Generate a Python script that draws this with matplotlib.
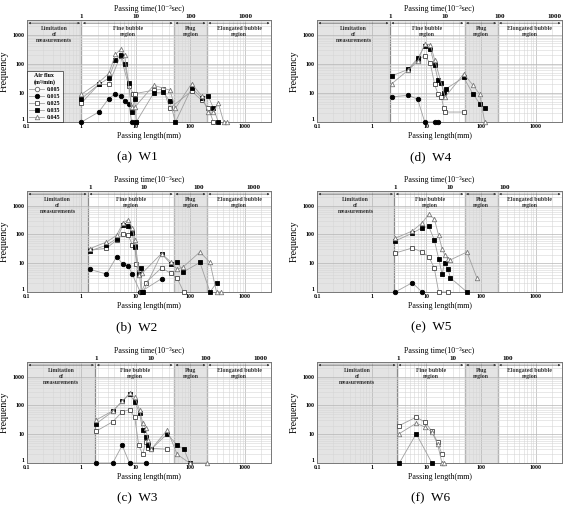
import numpy as np
import matplotlib
matplotlib.use('Agg')
import matplotlib.pyplot as plt
from matplotlib.ticker import LogLocator, FixedLocator, NullLocator, NullFormatter

plt.rcParams['font.family'] = ['Liberation Serif', 'DejaVu Serif']
plt.rcParams['font.weight'] = 'bold'

flux_labels = ['0.005', '0.015', '0.025', '0.035', '0.045']
panel_names = ['(a)  W1', '(b)  W2', '(c)  W3', '(d)  W4', '(e)  W5', '(f)  W6']

# passing length (mm) / frequency
# W1
w1_x05 = [9.0]
w1_y05 = [9.5]
w1_x15 = [1, 2.07, 3.16, 4.2, 5.2, 6.2, 7.4, 8.3, 10.1]
w1_y15 = [1, 2.2, 6.4, 9.5, 7.7, 5.2, 4.1, 1, 1]
w1_x25 = [1, 2.07, 3.16, 5.2, 7.4, 8.9, 9.7, 21.2, 31.6, 41.7, 105, 160, 212, 263]
w1_y25 = [4.5, 19.5, 19.5, 190, 17, 9.5, 9.5, 12.4, 13.4, 3.0, 11.5, 5.6, 3.1, 1]
w1_x35 = [1, 2.07, 3.16, 4.2, 5.2, 6.2, 7.4, 8.3, 9.5, 10.1, 21.2, 31.6, 41.7, 53, 105, 160, 212, 263, 324]
w1_y35 = [6.4, 19.5, 32, 134, 200, 98, 22, 2.2, 6.0, 1, 10, 10.8, 5.2, 1, 14.9, 6.8, 7.7, 3.0, 1]
w1_x45 = [1, 2.07, 3.16, 4.2, 5.2, 6.2, 8.3, 9.6, 21.2, 41.7, 53, 105, 160, 212, 263, 324, 407, 475]
w1_y45 = [9.0, 22.8, 46.6, 210, 314, 200, 3.3, 3.3, 18.3, 12.4, 3.0, 21, 7.9, 2.2, 2.2, 4.4, 1, 1]

# W2
w2_x05 = []
w2_y05 = []
w2_x15 = [1.42, 2.87, 4.39, 5.8, 7.2, 8.5, 12.0, 29.4]
w2_y15 = [6.1, 4.2, 16.5, 9.2, 8.1, 4.2, 1, 2.9]
w2_x25 = [1.42, 2.87, 4.39, 5.8, 7.2, 8.5, 9.5, 10.2, 11.5, 12.5, 15, 29.4, 44, 57, 75]
w2_y25 = [28, 33, 63, 105, 94, 44, 41, 9.2, 4.8, 1, 2.1, 6.9, 4.4, 3.0, 1]
w2_x35 = [1.42, 2.87, 4.39, 5.8, 7.2, 8.5, 9.5, 11.2, 12.2, 12.8, 13.5, 29.4, 44, 57, 74, 149, 228, 302]
w2_y35 = [26.6, 42, 71, 204, 189, 111, 36, 4.2, 7.0, 1, 1, 21.6, 9.2, 11.1, 5.0, 10.6, 1, 2.1]
w2_x45 = [1.42, 2.87, 4.39, 5.8, 7.2, 8.5, 9.5, 11.5, 13, 29.4, 44, 57, 74, 149, 228, 300, 368]
w2_y45 = [32, 54, 92, 250, 320, 170, 66, 4.0, 4.5, 21.6, 10.8, 6.1, 7.5, 24.5, 10.6, 1, 1]

# W3
w3_x05 = []
w3_y05 = []
w3_x15 = [1.85, 3.75, 5.57, 7.6, 15]
w3_y15 = [1, 1, 4.1, 1, 1]
w3_x25 = [1.85, 3.75, 5.57, 7.6, 9.5, 11.2, 13.3, 15, 16.7, 37.4]
w3_y25 = [12.7, 27, 60, 71, 38, 4.1, 2.0, 5.3, 3.3, 3.0]
w3_x35 = [1.85, 3.75, 5.57, 7.6, 9.5, 11.6, 13.3, 15, 16.7, 19, 37.4, 57, 76, 96]
w3_y35 = [22.8, 62, 137, 246, 134, 54.5, 14, 8.3, 4.1, 3.0, 10.3, 4.1, 3.0, 1]
w3_x45 = [1.85, 3.75, 5.57, 7.6, 9.5, 11.6, 13.3, 15, 16.7, 19, 37.4, 57, 96, 204]
w3_y45 = [31, 65, 140, 260, 190, 70, 24, 16, 6.5, 3.0, 14, 2.0, 1, 1]

# W4
w4_x05 = []
w4_y05 = []
w4_x15 = [2.35, 4.6, 6.9, 9.3, 14.5, 16.3]
w4_y15 = [7.3, 8.3, 6.1, 1, 1, 1]
w4_x25 = [4.6, 6.9, 9.3, 11.8, 14.1, 16.3, 18.7, 20.6, 22, 48]
w4_y25 = [60, 140, 188, 103, 19.5, 9.0, 7.3, 3.1, 2.2, 2.2]
w4_x35 = [2.35, 4.6, 6.9, 9.3, 11.8, 14.1, 16.3, 18.7, 20.6, 23, 48, 70, 94, 116]
w4_y35 = [38.6, 64, 153, 417, 312, 90, 27, 22, 10.3, 14, 34, 9.5, 4.3, 3.1]
w4_x45 = [2.35, 4.6, 6.9, 9.3, 11.8, 14.1, 22, 48, 70, 94, 116]
w4_y45 = [21, 60, 120, 480, 450, 140, 7.3, 45, 19, 9.0, 1]

# W5
w5_x05 = []
w5_y05 = []
w5_x15 = [2.7, 5.5, 8.3]
w5_y15 = [1, 2.1, 1]
w5_x25 = [2.7, 5.5, 8.3, 11, 13.9, 16.7, 24.8]
w5_y25 = [22.6, 33.6, 24.5, 17, 6.9, 1, 1]
w5_x35 = [2.7, 5.5, 8.3, 11, 13.9, 16.7, 19.3, 21.5, 24.8, 27.4, 55]
w5_y35 = [59, 110, 169, 189, 65, 14.5, 4.2, 10.3, 6.2, 3.1, 1]
w5_x45 = [2.7, 5.5, 8.3, 11, 13.9, 16.7, 19.3, 21.5, 24.8, 27.4, 55, 84]
w5_y45 = [74, 130, 250, 490, 350, 92, 32, 19.5, 14, 13, 24.5, 3.0]

# W6
w6_x05 = []
w6_y05 = []
w6_x15 = []
w6_y15 = []
w6_x25 = [3.2, 6.5, 9.5, 12.6, 16, 19.2]
w6_y25 = [20, 39, 26, 12.4, 5.3, 2.0]
w6_x35 = [3.2, 6.5, 12.6]
w6_y35 = [1, 10.3, 1]
w6_x45 = [3.2, 6.5, 9.5, 12.6, 16, 19.2, 20.5]
w6_y45 = [10.5, 24, 17.5, 12, 4.5, 1, 1]

panel_data = [
    [(w1_x05, w1_y05), (w1_x15, w1_y15), (w1_x25, w1_y25), (w1_x35, w1_y35), (w1_x45, w1_y45)],
    [(w2_x05, w2_y05), (w2_x15, w2_y15), (w2_x25, w2_y25), (w2_x35, w2_y35), (w2_x45, w2_y45)],
    [(w3_x05, w3_y05), (w3_x15, w3_y15), (w3_x25, w3_y25), (w3_x35, w3_y35), (w3_x45, w3_y45)],
    [(w4_x05, w4_y05), (w4_x15, w4_y15), (w4_x25, w4_y25), (w4_x35, w4_y35), (w4_x45, w4_y45)],
    [(w5_x05, w5_y05), (w5_x15, w5_y15), (w5_x25, w5_y25), (w5_x35, w5_y35), (w5_x45, w5_y45)],
    [(w6_x05, w6_y05), (w6_x15, w6_y15), (w6_x25, w6_y25), (w6_x35, w6_y35), (w6_x45, w6_y45)],
]

# passing time scale: length(mm) where time = 1 ms, and the edge of measurable range
time_scale = [1.0, 1.42, 1.89, 2.2, 2.7, 3.05]
limit_edge = [1.0, 1.32, 1.8, 2.15, 2.6, 2.9]
time_ticks = [[1, 10, 100, 1000]] * 4 + [[1, 10, 100]] * 2

# marker styles for the five fluxes
styles = [
    dict(marker='o', mfc='white', mec='#666666'),
    dict(marker='o', mfc='black', mec='black'),
    dict(marker='s', mfc='white', mec='#444444'),
    dict(marker='s', mfc='black', mec='black'),
    dict(marker='^', mfc='white', mec='#777777'),
]

fig = plt.figure(figsize=(5.71, 5.11), dpi=100)

# axes boxes in pixels (left, top, right, bottom)
col_px = [(27, 271), (317, 562)]
row_px = [(20, 122), (191, 292), (362, 463)]
cap_y = [157, 327, 498]
cap_x = [137, 431]

W, H = 571.0, 511.0
serif = ['Liberation Serif', 'DejaVu Serif']

for i in range(6):
    col = i // 3
    row = i % 3
    l, r = col_px[col]
    t, b = row_px[row]
    ax = fig.add_axes([l / W, 1 - b / H, (r - l) / W, (b - t) / H])
    ax.set_xscale('log')
    ax.set_yscale('log')
    ax.set_xlim(0.1, 3000)
    ax.set_ylim(1, 3200)

    edge = limit_edge[i]
    ax.axvspan(0.1, edge, color='#e4e4e4', zorder=0, lw=0)
    ax.axvspan(50, 200, color='#e4e4e4', zorder=0, lw=0)
    for xv in [edge, 50, 200]:
        ax.axvline(xv, color='#8a8a8a', lw=0.9, zorder=1)

    ax.xaxis.set_major_locator(FixedLocator([0.1, 1, 10, 100, 1000]))
    ax.xaxis.set_minor_locator(LogLocator(base=10, subs=np.arange(2, 10), numticks=20))
    ax.xaxis.set_minor_formatter(NullFormatter())
    ax.set_xticklabels(['0.1', '1', '10', '100', '1000'])
    ax.yaxis.set_major_locator(FixedLocator([1, 10, 100, 1000]))
    ax.yaxis.set_minor_locator(LogLocator(base=10, subs=np.arange(2, 10), numticks=20))
    ax.yaxis.set_minor_formatter(NullFormatter())
    ax.set_yticklabels(['1', '10', '100', '1000'])
    ax.grid(which='major', color='#b5b5b5', lw=0.5, zorder=1)
    ax.grid(which='minor', color='#d6d6d6', lw=0.4, zorder=1)
    ax.tick_params(which='both', length=0, labelsize=4.2, pad=1.5)
    ax.tick_params(axis='x', pad=1.5)
    # the "1" of the frequency axis sits just above the "0.1" of the length axis
    ax.get_yticklabels()[0].set_va('bottom')
    for sp in ax.spines.values():
        sp.set_color('#777777')
        sp.set_linewidth(0.7)

    ax.set_xlabel('Passing length(mm)', fontsize=5.8, labelpad=2)
    ax.set_ylabel('Frequency', fontsize=7, labelpad=3)

    # region arrows and names
    ya = 2500
    spans = [(0.1, edge), (edge, 50), (50, 200), (200, 3000)]
    names = ['Limitation\nof\nmeasurements', 'Fine bubble\nregion', 'Plug\nregion', 'Elongated bubble\nregion']
    for (a, c), name in zip(spans, names):
        ax.annotate('', xy=(a * 1.06, ya), xytext=(c / 1.06, ya),
                    arrowprops=dict(arrowstyle='<|-|>', lw=0.4, color='#333333',
                                    mutation_scale=3, shrinkA=0, shrinkB=0))
        ax.text(np.sqrt(a * c), 2050, name, ha='center', va='top',
                fontsize=4.2, color='#333333', linespacing=1.25)

    for k, (xs, ys) in enumerate(panel_data[i]):
        ax.plot(xs, ys, color='#a0a0a0', lw=0.6, ms=3.2, mew=0.6,
                clip_on=False, zorder=3, label=flux_labels[k], **styles[k])

    if i == 0:
        leg = ax.legend(loc='lower left', bbox_to_anchor=(0.0, 0.0), fontsize=4.3,
                        title='Air flux\n(m\u00b3/min)', title_fontsize=4.3,
                        frameon=True, fancybox=False, edgecolor='black',
                        handlelength=2.4, handletextpad=0.5, labelspacing=0.3,
                        borderpad=0.4, borderaxespad=0)
        leg.get_frame().set_linewidth(0.5)
        leg.set_zorder(5)

    # passing time on top
    ax2 = ax.twiny()
    ax2.set_xscale('log')
    ax2.set_xlim(ax.get_xlim())
    ticks = time_ticks[i]
    ax2.xaxis.set_major_locator(FixedLocator([time_scale[i] * v for v in ticks]))
    ax2.xaxis.set_minor_locator(NullLocator())
    ax2.set_xticklabels([str(v) for v in ticks])
    ax2.tick_params(length=0, labelsize=5, pad=1)
    ax2.set_xlabel('Passing time(10\u207b\u00b3sec)', fontsize=5.8, labelpad=2)
    for sp in ax2.spines.values():
        sp.set_visible(False)

    fig.text(cap_x[col] / W, 1 - cap_y[row] / H, panel_names[i], ha='center', va='center',
             fontsize=9.5, fontweight='normal', family=serif)

fig.savefig('out.png', dpi=100)
